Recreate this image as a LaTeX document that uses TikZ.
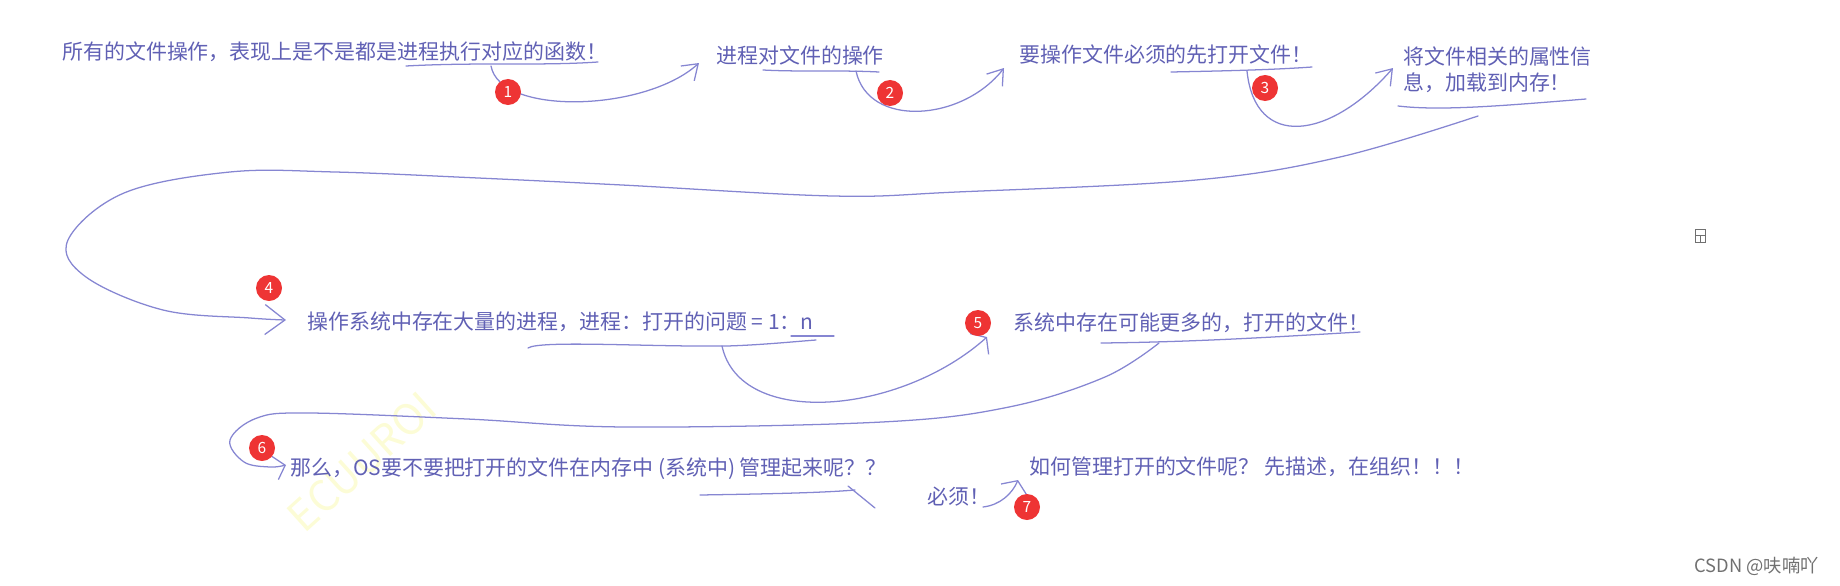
\documentclass[tikz,border=0pt]{standalone}
\usepackage{fontspec}
\newfontfamily\cjk{Noto Sans CJK SC}
\usetikzlibrary{arrows.meta}
\definecolor{InkBlue}{RGB}{96,96,180}
\definecolor{PenBlue}{RGB}{134,134,210}
\definecolor{BadgeRed}{RGB}{238,52,52}
\definecolor{MarkGrey}{RGB}{112,112,112}
\definecolor{WaterYellow}{RGB}{252,252,214}

\begin{document}
\begin{tikzpicture}[x=0.025cm, y=-0.025cm,
  txt/.style={anchor=west, inner sep=0pt, text=InkBlue, font=\cjk\fontsize{14.9}{18.4}\selectfont},
  pen/.style={PenBlue, line width=0.9pt, line cap=round, line join=round},
  barb/.style={-{Straight Barb[length=3.6mm, width=5mm]}},
  wide/.style={-{Straight Barb[length=2.4mm, width=7mm]}},
  hook/.style={-{Straight Barb[length=5mm, width=7.5mm]}},
  smallhook/.style={-{Straight Barb[length=2.6mm, width=6mm]}},
  badge/.style={circle, fill=BadgeRed, text=white, inner sep=0pt, minimum size=0.65cm, font=\cjk\fontsize{11}{11}\selectfont}]

  \useasboundingbox (0,0) rectangle (1840,585);

  % faint watermark
  \node[rotate=42, text=WaterYellow, font=\cjk\fontsize{30}{30}\selectfont] (wm) at (362,462) {ECUUROI};

  % ends of the pen strokes
  \coordinate (c1s) at (491,66);   \coordinate (c1e) at (699,63);
  \coordinate (c2s) at (856,71);   \coordinate (c2e) at (1004,68);
  \coordinate (c3s) at (1247,71);  \coordinate (c3e) at (1393,68);
  \coordinate (c4s) at (1478,116); \coordinate (c4e) at (286,320);
  \coordinate (c5s) at (722,346);  \coordinate (c5e) at (987,337);
  \coordinate (c6s) at (1159,343); \coordinate (c6e) at (286,465);
  \coordinate (c7s) at (983,507);  \coordinate (c7e) at (1018,480);

  % underlines
  \draw[pen] (406,66) .. controls (480,62) and (540,66) .. (598,62);
  \draw[pen] (763,70) .. controls (800,72) and (840,70) .. (879,72);
  \draw[pen] (1171,72) .. controls (1220,71) and (1270,70) .. (1312,67);
  \draw[pen] (1398,106) .. controls (1440,111) and (1500,106) .. (1586,99);
  \draw[pen] (528,348) .. controls (540,340) and (650,347) .. (727,346)
    .. controls (760,345) and (790,342) .. (816,340);
  \draw[pen] (791,336) -- (834,336);
  \draw[pen] (1101,343) .. controls (1200,342) and (1290,336) .. (1360,332);
  \draw[pen] (700,495) .. controls (760,494) and (820,493) .. (855,490);
  \draw[pen] (848,486) -- (875,508);

  % strokes from one remark to the next
  \draw[pen, barb] (c1s) .. controls (500,116) and (645,112) .. (c1e);
  \draw[pen, barb] (c2s) .. controls (868,128) and (962,122) .. (c2e);
  \draw[pen, barb] (c3s) .. controls (1255,150) and (1330,140) .. (c3e);
  \draw[pen, hook] plot[smooth, tension=0.6] coordinates {(c4s) (1340,157) (1196,180)
    (957,192) (833,196) (622,185) (478,178) (335,172) (230,172) (124,193)
    (68,240) (86,277) (163,310) (250,318) (c4e)};
  \draw[pen, wide] (c5s) .. controls (740,429) and (900,415) .. (c5e);
  \draw[pen, smallhook] plot[smooth, tension=0.6] coordinates {(c6s) (1105,377)
    (1009,407) (882,422) (626,427) (467,419) (308,413) (257,418) (230,440)
    (244,462) (270,467) (c6e)};
  \draw[pen, wide] (c7s) .. controls (1000,505) and (1012,494) .. (c7e);

  % remarks
  \node[txt] (t1) at (62,52) {所有的文件操作，表现上是不是都是进程执行对应的函数！};
  \node[txt] (t2) at (716,55) {进程对文件的操作};
  \node[txt] (t3) at (1019,55) {要操作文件必须的先打开文件！};
  \node[txt, align=left] (t4) at (1403,70) {将文件相关的属性信\\息，加载到内存！};
  \node[txt] (t5) at (307,322) {操作系统中存在大量的进程，进程：打开的问题 = 1：n};
  \node[txt] (t6) at (1013,323) {系统中存在可能更多的，打开的文件！};
  \node[txt] (t7) at (290,469) {那么，OS要不要把打开的文件在内存中 (系统中) 管理起来呢？？};
  \node[txt] (t7a) at (927,497) {必须！};
  \node[txt] (t8) at (1029,467) {如何管理打开的文件呢？ 先描述，在组织！！！};

  % numbered badges
  \node[badge] (b1) at (508,92) {1};
  \node[badge] (b2) at (890,93) {2};
  \node[badge] (b3) at (1265,88) {3};
  \node[badge] (b4) at (269,288) {4};
  \node[badge] (b5) at (978,323) {5};
  \node[badge] (b6) at (262,448) {6};
  \node[badge] (b7) at (1027,507) {7};

  \draw[MarkGrey, line width=0.5pt] (1695,229) rectangle (1705,242)
    (1695,235) -- (1705,235) (1700,235) -- (1700,242);
  \node[anchor=east, inner sep=0pt, text=MarkGrey, font=\cjk\fontsize{13}{13}\selectfont] (mark) at (1819,566) {CSDN @呋喃吖};
\end{tikzpicture}
\end{document}
